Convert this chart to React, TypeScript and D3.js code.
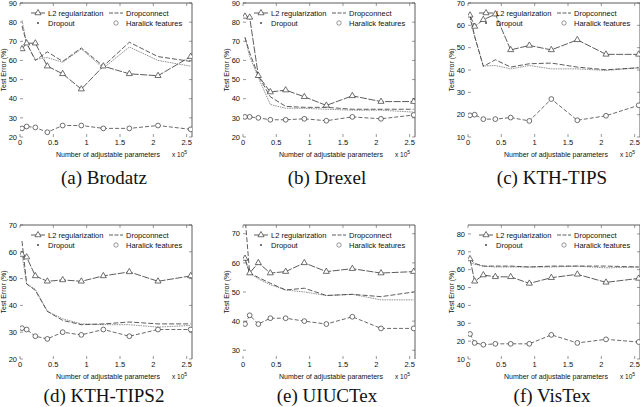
import React from 'react';
import * as d3 from 'd3';

// number of adjustable parameters (x 10^5), shared by all panels
const params = [0.03, 0.1, 0.23, 0.41, 0.64, 0.92, 1.25, 1.64, 2.07, 2.56];
const xTicks = [0, 0.5, 1, 1.5, 2, 2.5];

// (a) Brodatz
const brodatzL2 = [66, 69, 69, 57, 53, 45, 57, 53, 52, 62];
const brodatzDropconnect = [78, 69, 60, 64.5, 59.5, 66.5, 57, 69.5, 62, 59.5];
const brodatzDropout = [81, 69, 60.5, 61.5, 59, 66, 56, 67, 60, 57];
const brodatzHaralick = [24.5, 25.5, 25, 22.5, 26, 26, 24.5, 24.5, 26, 24];

// (b) Drexel
const drexelL2 = [83, 82.5, 52, 43.5, 44.5, 41, 36.5, 41.5, 38.5, 38.5];
const drexelDropconnect = [72, 64, 52, 41, 36, 35.5, 35.5, 34.5, 34.5, 34.5];
const drexelDropout = [72, 62, 51, 37, 35, 35, 34.5, 34, 34, 33];
const drexelHaralick = [30.5, 30.5, 30, 29, 29, 29.5, 28.5, 30.5, 29.5, 31.5];

// (c) KTH-TIPS
const kthL2 = [64.5, 59.5, 62.5, 65, 49, 51, 49, 53.5, 47, 47];
const kthDropconnect = [64.5, 55, 41.6, 44.6, 41.3, 42.8, 43.1, 41.3, 40.1, 41];
const kthDropout = [63, 55, 41.8, 42, 40.5, 42, 40.5, 40.5, 39.8, 41];
const kthHaralick = [19.7, 20, 18, 18, 18.7, 17.2, 27, 17.5, 19.5, 24.2];

// (d) KTH-TIPS2
const kth2L2 = [59, 58, 51, 49, 49.5, 49, 51, 52.5, 49, 51];
const kth2Dropconnect = [64, 48, 45.6, 37.8, 34.4, 32.8, 33.1, 33.8, 33.1, 33.1];
const kth2Dropout = [59, 48, 46, 37.8, 35, 33.1, 32.8, 32.8, 31.9, 32.5];
const kth2Haralick = [31.5, 31, 28.5, 27.5, 30, 29, 31, 28.5, 31, 31];

// (e) UIUCTex
const uiucL2 = [61.5, 56.5, 60, 56.5, 57, 60, 57, 58, 56.5, 57];
const uiucDropconnect = [76, 56.5, 55, 53, 50.7, 51.3, 48.8, 49.2, 48.4, 50];
const uiucDropout = [61, 56.5, 54.5, 52.5, 50.7, 50, 48.8, 49.2, 47.3, 47.3];
const uiucHaralick = [39, 42, 39, 41, 41, 40, 39, 41.5, 37.5, 37.5];

// (f) VisTex
const vistexL2 = [66, 53.5, 57, 56, 56, 52.3, 55.5, 57.4, 52.9, 55.1];
const vistexDropconnect = [66, 63.5, 62, 62, 62, 61.5, 62, 62, 62, 61.5];
const vistexDropout = [64, 63, 62, 61.5, 61.5, 61.5, 61.5, 62, 61, 61.5];
const vistexHaralick = [24, 19, 18, 18.5, 18.5, 18.5, 23.5, 19, 21, 19.5];

const panels = [
  { id: 'a', caption: '(a) Brodatz', col: 0, row: 0, yDomain: [20, 90], yTicks: [20, 30, 40, 50, 60, 70, 80, 90],
    l2: brodatzL2, dropconnect: brodatzDropconnect, dropout: brodatzDropout, haralick: brodatzHaralick },
  { id: 'b', caption: '(b) Drexel', col: 1, row: 0, yDomain: [20, 90], yTicks: [20, 30, 40, 50, 60, 70, 80, 90],
    l2: drexelL2, dropconnect: drexelDropconnect, dropout: drexelDropout, haralick: drexelHaralick },
  { id: 'c', caption: '(c) KTH-TIPS', col: 2, row: 0, yDomain: [10, 70], yTicks: [10, 20, 30, 40, 50, 60, 70],
    l2: kthL2, dropconnect: kthDropconnect, dropout: kthDropout, haralick: kthHaralick },
  { id: 'd', caption: '(d) KTH-TIPS2', col: 0, row: 1, yDomain: [20, 70], yTicks: [20, 30, 40, 50, 60, 70],
    l2: kth2L2, dropconnect: kth2Dropconnect, dropout: kth2Dropout, haralick: kth2Haralick },
  { id: 'e', caption: '(e) UIUCTex', col: 1, row: 1, yDomain: [27, 73], yTicks: [30, 40, 50, 60, 70],
    l2: uiucL2, dropconnect: uiucDropconnect, dropout: uiucDropout, haralick: uiucHaralick },
  { id: 'f', caption: '(f) VisTex', col: 2, row: 1, yDomain: [10, 85], yTicks: [10, 20, 30, 40, 50, 60, 70, 80],
    l2: vistexL2, dropconnect: vistexDropconnect, dropout: vistexDropout, haralick: vistexHaralick },
];

const colLeft = [20, 243, 468];
const rowTop = [3, 225];
const plotW = 172;
const plotH = 134;
const sans = '"Liberation Sans", Arial, sans-serif';
const ink = '#111';

const triangle = d3.symbol().type(d3.symbolTriangle).size(16)()!;

function Panel({ p }: { p: typeof panels[number] }) {
  const L = colLeft[p.col];
  const T = rowTop[p.row];
  const B = T + plotH;
  const x = d3.scaleLinear().domain([0, 2.58]).range([L, L + plotW]);
  const y = d3.scaleLinear().domain(p.yDomain).range([B, T]);
  const line = d3.line<number>().x((_, i) => x(params[i])).y((d) => y(d));
  const clip = `clip-${p.id}`;

  return (
    <g>
      <defs>
        <clipPath id={clip}>
          <rect x={L} y={T} width={plotW} height={plotH} />
        </clipPath>
      </defs>
      {/* frame: only top and right edges survive in the original */}
      <line x1={L} x2={L + plotW} y1={T} y2={T} stroke="#333" strokeWidth={0.8} />
      <line x1={L + plotW} x2={L + plotW} y1={T} y2={B} stroke="#333" strokeWidth={0.8} />
      {p.yTicks.map((t) => (
        <g key={'y' + t}>
          <line x1={L} x2={L + 3} y1={y(t)} y2={y(t)} stroke="#555" strokeWidth={0.6} />
          <line x1={L + plotW - 3} x2={L + plotW} y1={y(t)} y2={y(t)} stroke="#555" strokeWidth={0.6} />
          <text x={L - 3} y={y(t) + 2.7} textAnchor="end" fontSize={7.5} fontFamily={sans} fill={ink}>{t}</text>
        </g>
      ))}
      {xTicks.map((t) => (
        <g key={'x' + t}>
          <line x1={x(t)} x2={x(t)} y1={B} y2={B - 3} stroke="#555" strokeWidth={0.6} />
          <line x1={x(t)} x2={x(t)} y1={T} y2={T + 3} stroke="#555" strokeWidth={0.6} />
          <text x={x(t)} y={B + 8} textAnchor="middle" fontSize={7.5} fontFamily={sans} fill={ink}>{t}</text>
        </g>
      ))}
      <text x={L + 88} y={B + 20} textAnchor="middle" fontSize={7} fontFamily={sans} fill={ink}>
        Number of adjustable parameters
      </text>
      <text x={L + 152} y={B + 20} fontSize={6.5} fontFamily={sans} fill={ink}>
        x 10<tspan dy={-3} fontSize={5}>5</tspan>
      </text>
      <text transform={`translate(${L - 14},${T + 67}) rotate(-90)`} textAnchor="middle" fontSize={7}
        fontFamily={sans} fill={ink}>Test Error (%)</text>

      <g clipPath={`url(#${clip})`} fill="none">
        <path d={line(p.dropout)!} stroke="#8a8a8a" strokeWidth={0.9} strokeDasharray="1.6,0.8" />
        <path d={line(p.dropconnect)!} stroke="#333" strokeWidth={0.8} strokeDasharray="5,2" />
        <path d={line(p.l2)!} stroke="#333" strokeWidth={0.8} strokeDasharray="7,1.5" />
        <path d={line(p.haralick)!} stroke="#444" strokeWidth={0.8} strokeDasharray="4,2" />
        {p.l2.map((v, i) => (
          <path key={'t' + i} d={triangle} transform={`translate(${x(params[i])},${y(v)})`}
            fill="white" stroke="#333" strokeWidth={0.7} />
        ))}
        {p.haralick.map((v, i) => (
          <circle key={'c' + i} cx={x(params[i])} cy={y(v)} r={2.4} fill="white" stroke="#333" strokeWidth={0.7} />
        ))}
      </g>

      {/* legend */}
      <g fontSize={7.5} fontFamily={sans} fill={ink}>
        <line x1={L + 11} x2={L + 25} y1={T + 10} y2={T + 10} stroke="#333" strokeWidth={0.8} />
        <path d={triangle} transform={`translate(${L + 18},${T + 10})`} fill="white" stroke="#333" strokeWidth={0.7} />
        <text x={L + 28} y={T + 12.7}>L2 regularization</text>
        <line x1={L + 89} x2={L + 103} y1={T + 10} y2={T + 10} stroke="#333" strokeWidth={0.8} strokeDasharray="4,1.5" />
        <text x={L + 106} y={T + 12.7}>Dropconnect</text>
        <circle cx={L + 18} cy={T + 20} r={0.9} fill="#333" />
        <text x={L + 28} y={T + 22.7}>Dropout</text>
        <circle cx={L + 96} cy={T + 20} r={2.2} fill="white" stroke="#555" strokeWidth={0.6} />
        <text x={L + 106} y={T + 22.7}>Haralick features</text>
      </g>

      <text x={L + 84} y={p.row === 0 ? 184 : 402} textAnchor="middle" fontSize={19}
        fontFamily='"Liberation Serif", "Times New Roman", serif' fill={ink}>{p.caption}</text>
    </g>
  );
}

export default function App() {
  return (
    <svg width={640} height={407} style={{ position: 'absolute', left: 0, top: 0, background: 'white' }}>
      <rect width={640} height={407} fill="white" />
      {panels.map((p) => (
        <Panel key={p.id} p={p} />
      ))}
    </svg>
  );
}
